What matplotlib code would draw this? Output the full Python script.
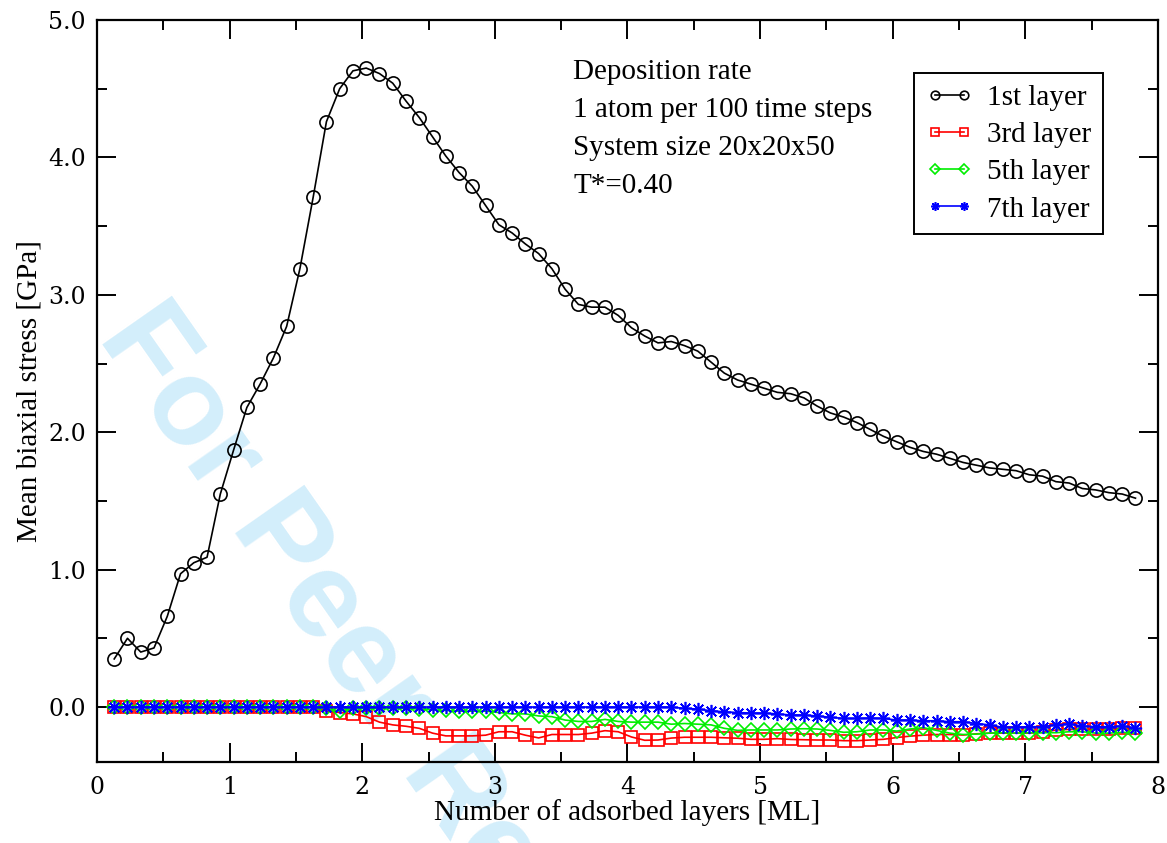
import numpy as np
import matplotlib
matplotlib.use("Agg")
import matplotlib.pyplot as plt
from matplotlib.ticker import MultipleLocator

# adsorbed layers [ML]
layers = [0.13, 0.23, 0.33, 0.43, 0.53, 0.63, 0.73, 0.83, 0.93, 1.03,
          1.13, 1.23, 1.33, 1.43, 1.53, 1.63, 1.73, 1.83, 1.93, 2.03,
          2.13, 2.23, 2.33, 2.43, 2.53, 2.63, 2.73, 2.83, 2.93, 3.03,
          3.13, 3.23, 3.33, 3.43, 3.53, 3.63, 3.73, 3.83, 3.93, 4.03,
          4.13, 4.23, 4.33, 4.43, 4.53, 4.63, 4.73, 4.83, 4.93, 5.03,
          5.13, 5.23, 5.33, 5.43, 5.53, 5.63, 5.73, 5.83, 5.93, 6.03,
          6.13, 6.23, 6.33, 6.43, 6.53, 6.63, 6.73, 6.83, 6.93, 7.03,
          7.13, 7.23, 7.33, 7.43, 7.53, 7.63, 7.73, 7.83]

# mean biaxial stress [GPa]
layer1 = [0.35, 0.50, 0.40, 0.43, 0.66, 0.97, 1.05, 1.09, 1.55, 1.87,
          2.18, 2.35, 2.54, 2.77, 3.19, 3.71, 4.26, 4.50, 4.63, 4.65,
          4.61, 4.54, 4.41, 4.29, 4.15, 4.01, 3.89, 3.79, 3.65, 3.51,
          3.45, 3.37, 3.30, 3.19, 3.04, 2.93, 2.91, 2.91, 2.85, 2.76,
          2.70, 2.65, 2.66, 2.63, 2.59, 2.51, 2.43, 2.38, 2.35, 2.32,
          2.29, 2.28, 2.25, 2.19, 2.14, 2.11, 2.07, 2.02, 1.97, 1.93,
          1.89, 1.86, 1.84, 1.81, 1.78, 1.76, 1.74, 1.73, 1.72, 1.69,
          1.68, 1.64, 1.63, 1.59, 1.58, 1.56, 1.55, 1.52]

layer3 = [0.0, 0.0, 0.0, 0.0, 0.0, 0.0, 0.0, 0.0, 0.0, 0.0,
          0.0, 0.0, 0.0, 0.0, 0.0, 0.0, -0.03, -0.04, -0.05, -0.07,
          -0.11, -0.13, -0.14, -0.155, -0.19, -0.21, -0.21, -0.21, -0.205, -0.18,
          -0.18, -0.205, -0.225, -0.20, -0.20, -0.20, -0.19, -0.172, -0.18, -0.218,
          -0.242, -0.24, -0.226, -0.22, -0.22, -0.22, -0.224, -0.227, -0.235, -0.235,
          -0.23, -0.236, -0.238, -0.24, -0.24, -0.245, -0.245, -0.24, -0.235, -0.222,
          -0.212, -0.205, -0.20, -0.20, -0.204, -0.195, -0.19, -0.19, -0.19, -0.19,
          -0.185, -0.167, -0.163, -0.163, -0.16, -0.16, -0.155, -0.15]

layer5 = [0.0, 0.0, 0.0, 0.0, 0.0, 0.0, 0.0, 0.0, 0.0, 0.0,
          0.0, 0.0, 0.0, 0.0, 0.0, 0.0, -0.01, -0.03, -0.01, -0.01,
          -0.01, -0.01, -0.01, -0.015, -0.02, -0.025, -0.03, -0.03, -0.03, -0.04,
          -0.05, -0.05, -0.065, -0.07, -0.095, -0.105, -0.105, -0.09, -0.105, -0.11,
          -0.11, -0.11, -0.125, -0.12, -0.125, -0.13, -0.155, -0.17, -0.167, -0.167,
          -0.167, -0.16, -0.158, -0.16, -0.17, -0.184, -0.18, -0.167, -0.167, -0.175,
          -0.16, -0.15, -0.17, -0.19, -0.20, -0.197, -0.19, -0.187, -0.19, -0.187,
          -0.187, -0.187, -0.18, -0.18, -0.19, -0.19, -0.184, -0.19]

layer7 = [0.0, 0.0, 0.0, 0.0, 0.0, 0.0, 0.0, 0.0, 0.0, 0.0,
          0.0, 0.0, 0.0, 0.0, 0.0, 0.0, 0.0, 0.0, 0.0, 0.0,
          0.0, 0.0, 0.0, 0.0, 0.0, 0.0, 0.0, 0.0, 0.0, 0.0,
          0.0, 0.0, 0.0, 0.0, 0.0, 0.0, 0.0, 0.0, 0.0, 0.0,
          0.0, 0.0, 0.0, -0.01, -0.015, -0.027, -0.035, -0.04, -0.044, -0.044,
          -0.05, -0.058, -0.058, -0.065, -0.075, -0.083, -0.083, -0.08, -0.083, -0.095,
          -0.095, -0.10, -0.10, -0.107, -0.107, -0.12, -0.13, -0.148, -0.148, -0.143,
          -0.143, -0.13, -0.124, -0.138, -0.143, -0.143, -0.138, -0.15]

series_labels = ["1st layer", "3rd layer", "5th layer", "7th layer"]
info_lines = ["Deposition rate", "1 atom per 100 time steps",
              "System size 20x20x50", "T*=0.40"]

serif = "Liberation Serif"
fs = 21

fig = plt.figure(figsize=(11.67, 8.43), dpi=100)
ax = fig.add_axes([0.0831, 0.0961, 0.9092, 0.8802])
ax.set_facecolor("none")

# watermark behind everything
fig.text(0.083, 0.60, "For Peer Review", rotation=-55, rotation_mode="anchor",
         ha="left", va="baseline", fontsize=88, fontweight="bold",
         family="Liberation Sans", color="#d3eefb", zorder=-5)

x = np.array(layers)
lw = 1.2
ax.plot(x, layer1, color="black", lw=lw, marker="o", ms=9.5, mfc="none",
        mew=1.2, label=series_labels[0])
ax.plot(x, layer3, color="#ff0000", lw=lw, marker="s", ms=9, mfc="none",
        mew=1.2, label=series_labels[1])
ax.plot(x, layer5, color="#00ee00", lw=lw, marker="D", ms=7.5, mfc="none",
        mew=1.2, label=series_labels[2])
ax.plot(x, layer7, color="#0000ff", lw=lw, marker=(8, 2, 0), ms=9.5,
        mew=1.2, label=series_labels[3])

ax.set_xlim(0, 8)
ax.set_ylim(-0.4, 5.0)
ax.xaxis.set_major_locator(MultipleLocator(1))
ax.xaxis.set_minor_locator(MultipleLocator(0.5))
ax.yaxis.set_major_locator(MultipleLocator(1))
ax.yaxis.set_minor_locator(MultipleLocator(0.5))
ax.set_yticks([0, 1, 2, 3, 4, 5])
ax.set_yticklabels(["0.0", "1.0", "2.0", "3.0", "4.0", "5.0"])

ax.tick_params(which="both", direction="in", top=True, right=True, width=1.4,
               labelsize=17, pad=8)
ax.tick_params(axis="x", pad=10)
ax.tick_params(which="major", length=14)
ax.tick_params(which="minor", length=7)
for lab in ax.get_xticklabels() + ax.get_yticklabels():
    lab.set_family("DejaVu Serif")
for sp in ax.spines.values():
    sp.set_linewidth(1.6)

ax.set_xlabel("Number of adsorbed layers [ML]", family=serif, fontsize=fs,
              labelpad=0)
ax.set_ylabel("Mean biaxial stress [GPa]", family=serif, fontsize=fs,
              labelpad=4)

for i, line in enumerate(info_lines):
    ax.text(0.449, 0.930 - i * 0.0512, line, transform=ax.transAxes,
            family=serif, fontsize=fs, va="center", ha="left")

leg = ax.legend(loc="upper right", bbox_to_anchor=(0.948, 0.9286),
                borderaxespad=0, numpoints=2, markerscale=0.65,
                prop={"family": serif, "size": fs}, fancybox=False,
                edgecolor="black", framealpha=1, handlelength=1.6,
                labelspacing=0.37, borderpad=0.4, handletextpad=0.5)
leg.get_frame().set_linewidth(1.4)

fig.savefig("out.png", dpi=100)
